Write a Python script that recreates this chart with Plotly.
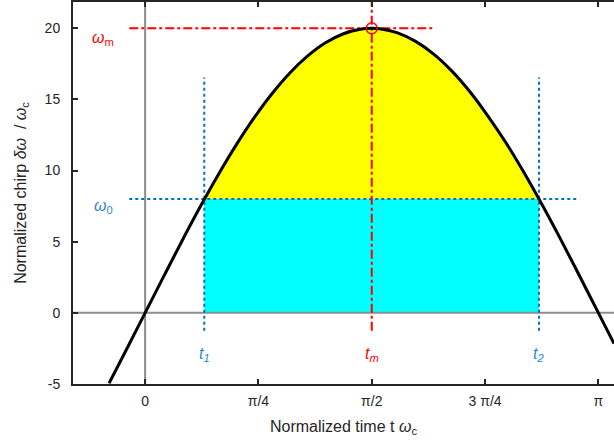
import plotly.graph_objects as go

# values
t = [-0.25, -0.125, 0, 0.125, 0.25, 0.375, 0.5, 0.625, 0.75, 0.875, 1.0, 1.125,
     1.25, 1.375, 1.5, 1.571, 1.625, 1.75, 1.875, 2.0, 2.125, 2.25, 2.375, 2.5,
     2.625, 2.75, 2.875, 3.0, 3.125, 3.25]
chirp = [-4.95, -2.49, 0.0, 2.49, 4.95, 7.33, 9.59, 11.70, 13.63, 15.35, 16.83, 18.04,
         18.98, 19.62, 19.95, 20.0, 19.97, 19.68, 19.08, 18.19, 17.01, 15.56, 13.85, 11.97,
         9.88, 7.63, 5.27, 2.82, 0.33, -2.16]

w0 = 8
wm = 20
tm = 1.5708
t1 = 0.41
t2 = 2.73

xtick_vals = [0, 0.7854, 1.5708, 2.3562, 3.1416]
xtick_text = ["0", "π/4", "π/2", "3 π/4", "π"]
ytick_vals = [-5, 0, 5, 10, 15, 20]
ytick_text = ["-5", "0", "5", "10", "15", "20"]

RED = "#FF0000"
BLUE = "#0072BD"
BLUE_TXT = "#2a86cc"
GRAY = "#8c8c8c"
FONT = "Liberation Sans, Arial, sans-serif"

fig = go.Figure()

# cyan block below omega_0
fig.add_trace(go.Scatter(
    x=[t1, t2, t2, t1, t1], y=[0, 0, w0, w0, 0],
    mode="lines", fill="toself", fillcolor="#00FFFF", line=dict(width=0),
    hoverinfo="skip"))

# yellow area between omega_0 and the curve
yx = [t1] + [a for a in t if t1 < a < t2] + [t2, t1]
yy = [w0] + [b for a, b in zip(t, chirp) if t1 < a < t2] + [w0, w0]
fig.add_trace(go.Scatter(
    x=yx, y=yy, mode="lines", fill="toself", fillcolor="#FFFF00",
    line=dict(width=0), hoverinfo="skip"))

# zero lines
fig.add_trace(go.Scatter(x=[-0.5, 3.25], y=[0, 0], mode="lines",
                         line=dict(color=GRAY, width=2), hoverinfo="skip"))
fig.add_trace(go.Scatter(x=[0, 0], y=[-5, 21.85], mode="lines",
                         line=dict(color=GRAY, width=2), hoverinfo="skip"))

# omega_0 / t1 / t2 guides
fig.add_trace(go.Scatter(x=[-0.11, 3.01], y=[w0, w0], mode="lines",
                         line=dict(color=BLUE, width=2, dash="dot")))
fig.add_trace(go.Scatter(x=[t1, t1], y=[-1.25, 16.55], mode="lines",
                         line=dict(color=BLUE, width=2, dash="dot")))
fig.add_trace(go.Scatter(x=[t2, t2], y=[-1.25, 16.55], mode="lines",
                         line=dict(color=BLUE, width=2, dash="dot")))

# omega_m / t_m guides
fig.add_trace(go.Scatter(x=[-0.11, 2.0], y=[wm, wm], mode="lines",
                         line=dict(color=RED, width=2, dash="dashdot")))
fig.add_trace(go.Scatter(x=[tm, tm], y=[-1.25, 21.85], mode="lines",
                         line=dict(color=RED, width=2, dash="dashdot")))

# chirp curve
fig.add_trace(go.Scatter(x=t, y=chirp, mode="lines",
                         line=dict(color="black", width=3, shape="spline")))

fig.add_trace(go.Scatter(x=[tm], y=[wm], mode="markers",
                         marker=dict(symbol="circle-open", size=11,
                                     color=RED, line=dict(width=1.5))))

labels = [
    (-0.29, wm - 0.75, "<i>ω</i><sub>m</sub>", RED),
    (-0.29, w0 - 0.5, "<i>ω</i><sub>0</sub>", BLUE_TXT),
    (t1, -2.9, "<i>t</i><sub><i>1</i></sub>", BLUE_TXT),
    (tm, -2.9, "<i>t</i><sub><i>m</i></sub>", RED),
    (t2, -2.9, "<i>t</i><sub><i>2</i></sub>", BLUE_TXT),
]
for x, y, txt, col in labels:
    fig.add_annotation(x=x, y=y, text=txt, showarrow=False,
                       font=dict(family=FONT, size=16, color=col))

fig.update_layout(
    width=614, height=447,
    margin=dict(l=73, r=0, t=2, b=63),
    plot_bgcolor="white", paper_bgcolor="white",
    showlegend=False,
    font=dict(family=FONT, size=14, color="#262626"),
    xaxis=dict(
        range=[-0.5, 3.25], tickvals=xtick_vals, ticktext=xtick_text,
        ticks="inside", ticklen=5, tickwidth=2, tickcolor="#262626",
        ticklabelstandoff=3,
        showline=True, linecolor="#262626", linewidth=2, mirror="ticks",
        showgrid=False, zeroline=False,
        title=dict(text="Normalized time t <i>ω</i><sub>c</sub>",
                   font=dict(size=16), standoff=13),
    ),
    yaxis=dict(
        range=[-5, 21.85], tickvals=ytick_vals, ticktext=ytick_text,
        ticks="inside", ticklen=5, tickwidth=2, tickcolor="#262626",
        ticklabelstandoff=8,
        showline=True, linecolor="#262626", linewidth=2, mirror=False,
        showgrid=False, zeroline=False,
        title=dict(text="Normalized chirp <i>δω</i>  / <i>ω</i><sub>c</sub>",
                   font=dict(size=16), standoff=14),
    ),
)

fig.write_html("out.html", config={"displayModeBar": False},
               post_script="document.body.style.margin='0';")
